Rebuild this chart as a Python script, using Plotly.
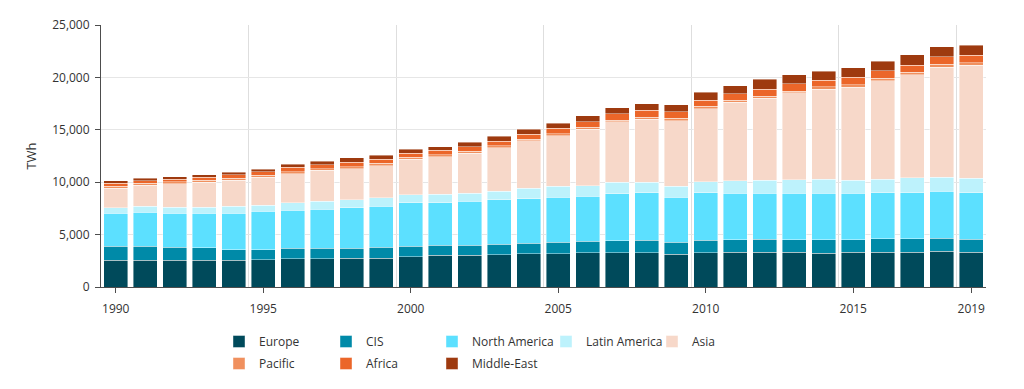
import plotly.graph_objects as go

years = list(range(1990, 2020))

europe = [2545, 2545, 2545, 2545, 2545, 2609, 2704, 2704, 2767, 2767,
          2895, 3022, 3022, 3086, 3181, 3181, 3277, 3277, 3277, 3149,
          3277, 3308, 3308, 3308, 3200, 3308, 3308, 3308, 3435, 3308]
cis = [1336, 1336, 1272, 1177, 1018, 954, 986, 986, 923, 1018,
       986, 954, 954, 1017, 986, 1081, 1081, 1145, 1176, 1113,
       1208, 1209, 1272, 1209, 1300, 1209, 1304, 1304, 1241, 1272]
north_america = [3149, 3244, 3213, 3308, 3467, 3657, 3626, 3753, 3880, 3944,
                 4167, 4072, 4199, 4231, 4262, 4326, 4325, 4484, 4549, 4326,
                 4517, 4421, 4358, 4421, 4453, 4421, 4390, 4390, 4453, 4421]
latin_america = [540, 604, 604, 604, 699, 604, 732, 732, 764, 795,
                 763, 826, 763, 795, 1018, 1018, 987, 1082, 986, 1018,
                 1049, 1177, 1240, 1304, 1335, 1272, 1303, 1431, 1367, 1400]
asia = [1877, 1972, 2227, 2385, 2449, 2672, 2767, 2958, 2958, 3054,
        3371, 3563, 3812, 4166, 4485, 4803, 5375, 5757, 6011, 6266,
        6966, 7506, 7825, 8270, 8570, 8843, 9352, 9829, 10466, 10751]
pacific = [190, 190, 190, 190, 190, 170, 190, 170, 190, 210,
           190, 190, 190, 190, 190, 220, 190, 190, 220, 220,
           220, 190, 190, 190, 250, 250, 250, 220, 290, 250]
africa = [240, 255, 225, 255, 330, 330, 400, 360, 440, 410,
          410, 410, 440, 445, 470, 510, 540, 600, 640, 640,
          580, 610, 670, 670, 610, 730, 730, 670, 700, 730]
middle_east = [238, 255, 252, 255, 275, 264, 300, 328, 388, 366,
               386, 354, 456, 447, 453, 478, 574, 578, 635, 667,
               759, 790, 953, 890, 876, 896, 928, 986, 981, 960]

# name, values, colour, legend group, legend entry width
series = [
    ("Europe", europe, "#004a5b", "legend", 62),
    ("CIS", cis, "#008aa8", "legend", 61),
    ("North America", north_america, "#5ce0ff", "legend", 69),
    ("Latin America", latin_america, "#bdf2fc", "legend", 61),
    ("Asia", asia, "#f7d8c9", "legend", 40),
    ("Pacific", pacific, "#f0905e", "legend2", 62),
    ("Africa", africa, "#eb6629", "legend2", 61),
    ("Middle-East", middle_east, "#9e3a0f", "legend2", 69),
]

tick_years = [1990, 1995, 2000, 2005, 2010, 2015, 2019]
grid_x = [1994.5, 1999.5, 2004.5, 2009.5, 2014.5, 2018.5, 2019.5]

fig = go.Figure()
for name, vals, color, lg, lw in series:
    fig.add_trace(go.Bar(
        x=years, y=vals, name=name, legend=lg, legendwidth=lw,
        marker=dict(color=color, line=dict(color="rgba(255,255,255,0.7)", width=0.6)),
    ))

font_family = "Open Sans, sans-serif"
axis_col = "#4d4d4d"
txt_col = "#333333"

legend_common = dict(
    orientation="h", xanchor="left", yanchor="top",
    xref="container", yref="container",
    font=dict(family=font_family, size=12, color=txt_col),
    bgcolor="rgba(0,0,0,0)", traceorder="normal",
)

fig.update_layout(
    width=1024, height=389,
    barmode="stack", bargap=0.18,
    plot_bgcolor="white", paper_bgcolor="white",
    margin=dict(l=101, r=38, t=25, b=102, autoexpand=False),
    font=dict(family=font_family, size=12, color=txt_col),
    xaxis=dict(
        range=[1989.5, 2019.5], tickmode="array", tickvals=tick_years,
        ticktext=[str(y) for y in tick_years],
        showgrid=False, showline=True, linecolor=axis_col, linewidth=1,
        ticks="outside", ticklen=5, tickcolor=axis_col, ticklabelstandoff=6,
        tickfont=dict(family=font_family, size=12, color=txt_col),
        minor=dict(tickmode="array", tickvals=grid_x, showgrid=True,
                   gridcolor="#dedede", gridwidth=1, ticks=""),
        zeroline=False,
    ),
    yaxis=dict(
        range=[0, 25000], tickmode="array", tickvals=[0, 5000, 10000, 15000, 20000, 25000],
        tickformat=",", showgrid=True, gridcolor="#e6e6e6", gridwidth=1,
        showline=True, linecolor=axis_col, linewidth=1,
        ticks="outside", ticklen=5, tickcolor=axis_col, ticklabelstandoff=3,
        tickfont=dict(family=font_family, size=12, color=txt_col),
        title=dict(text="TWh", font=dict(family=font_family, size=13, color=txt_col), standoff=12),
        zeroline=False,
    ),
    legend=dict(x=219 / 1024, y=1 - 327 / 389, **legend_common),
    legend2=dict(x=219 / 1024, y=1 - 349 / 389, **legend_common),
    showlegend=True,
)

fig.write_html(
    "out.html",
    config={"displayModeBar": False},
    post_script="document.body.style.margin='0';document.body.style.overflow='hidden';",
)
